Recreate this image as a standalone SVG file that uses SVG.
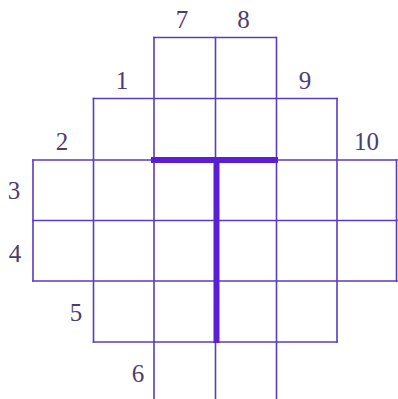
<svg xmlns="http://www.w3.org/2000/svg" width="398" height="399" viewBox="0 0 398 399">
<style>
.g{stroke:#5a3cc2;stroke-width:1.6;fill:none;stroke-linecap:square}
.t{stroke:#5a1fd4;stroke-width:6;fill:none;stroke-linecap:square}
.l{font-family:"Liberation Serif","DejaVu Serif",serif;font-size:25px;fill:#4b3d72;text-anchor:middle}
</style>
<rect width="398" height="399" fill="#ffffff"/>
<g id="grid" class="g">
<path d="M154 37.5H276M93.5 98.5H337M33 160H397M33 220.5H397M33 281H397M93.5 342H337"/>
<path d="M33 160V281M93.5 98.5V342M154 37.5V399M215.5 37.5V399M276.5 37.5V399M337 98.5V342M396.5 160V281"/>
</g>
<g id="bold" class="t">
<path d="M154 160H275"/>
<path d="M216.5 160V340"/>
</g>
<g id="labels" class="l">
<text x="182" y="28">7</text>
<text x="243.5" y="28">8</text>
<text x="122" y="89">1</text>
<text x="305" y="89">9</text>
<text x="62" y="150">2</text>
<text x="366.5" y="150">10</text>
<text x="14" y="199">3</text>
<text x="15" y="262">4</text>
<text x="76" y="321">5</text>
<text x="138" y="382">6</text>
</g>
</svg>
